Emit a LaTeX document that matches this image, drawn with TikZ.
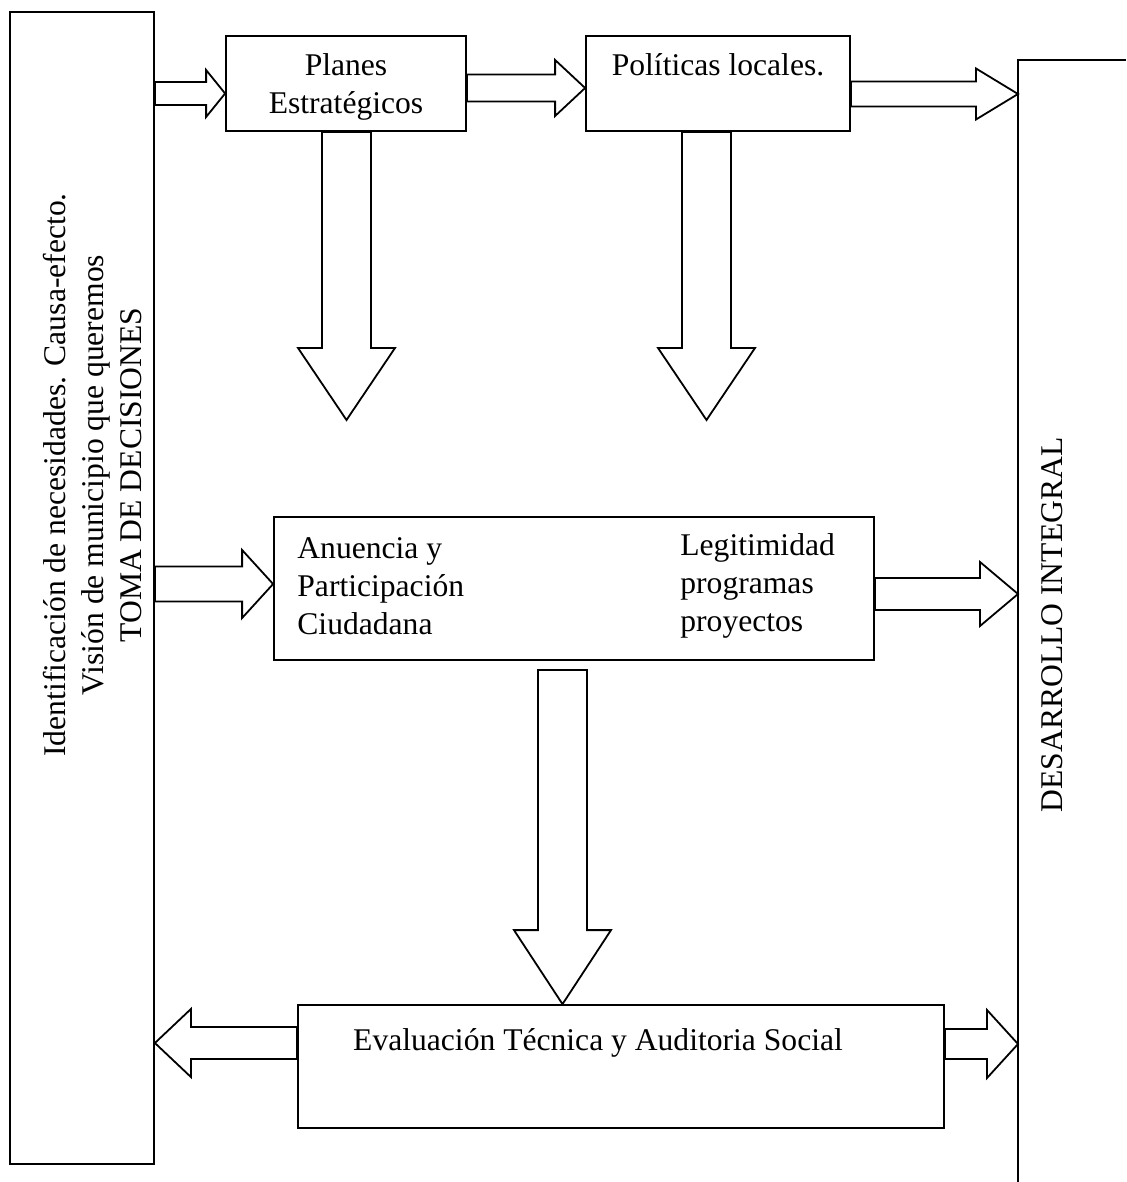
\documentclass[tikz,border=0pt]{standalone}
\usepackage{fontspec}
\setmainfont{Liberation Serif}
\usetikzlibrary{calc}
\tikzset{
  rarr/.style args={#1/#2/#3}{to path={
      -- ($(\tikztostart)+(0,-#1)$) -- ($(\tikztotarget)+(-#3,-#1)$)
      -- ($(\tikztotarget)+(-#3,-#2)$) -- (\tikztotarget)
      -- ($(\tikztotarget)+(-#3,#2)$) -- ($(\tikztotarget)+(-#3,#1)$)
      -- ($(\tikztostart)+(0,#1)$) -- cycle}},
  larr/.style args={#1/#2/#3}{to path={
      -- ($(\tikztostart)+(0,-#1)$) -- ($(\tikztotarget)+(#3,-#1)$)
      -- ($(\tikztotarget)+(#3,-#2)$) -- (\tikztotarget)
      -- ($(\tikztotarget)+(#3,#2)$) -- ($(\tikztotarget)+(#3,#1)$)
      -- ($(\tikztostart)+(0,#1)$) -- cycle}},
  darr/.style args={#1/#2/#3}{to path={
      -- ($(\tikztostart)+(-#1,0)$) -- ($(\tikztotarget)+(-#1,-#3)$)
      -- ($(\tikztotarget)+(-#2,-#3)$) -- (\tikztotarget)
      -- ($(\tikztotarget)+(#2,-#3)$) -- ($(\tikztotarget)+(#1,-#3)$)
      -- ($(\tikztostart)+(#1,0)$) -- cycle}},
}
\begin{document}
\begin{tikzpicture}[x=0.5pt,y=-0.5pt]
        \tikzstyle{box}=[draw,line width=0.9pt,inner sep=0pt]
        \tikzstyle{txt}=[inner sep=0pt,font=\fontsize{15.8}{19}\selectfont]
        \tikzstyle{blk}=[draw,line width=0.9pt,line join=miter]

      \useasboundingbox (0,0) rectangle (1126,1182);

      % left column
      \node[box,minimum width=72pt,minimum height=576pt] (lbox) at (82,588) {};
      \node[txt,rotate=90,align=center] (ltext) at (93,475)
           {Identificación de necesidades. Causa-efecto.\\Visión de municipio que queremos\\TOMA DE DECISIONES};

      % right column (open box)
      \draw[line width=0.9pt] (1126,60) coordinate (rtop) -- (1018,60) coordinate (rb) -- (1018,1182);
      \node[txt,rotate=90] (dtext) at (1052,625) {DESARROLLO INTEGRAL};

      % top row
      \node[box,minimum width=120pt,minimum height=47.5pt] (pl) at (346,83.5) {};
      \node[txt,align=center] (pltext) at (346,87) {Planes\\Estratégicos};
      \node[box,minimum width=132pt,minimum height=47.5pt] (pol) at (718,83.5) {};
      \node[txt] (poltext) at (718,65) {Políticas locales.};

      % middle
      \node[box,minimum width=300pt,minimum height=71.5pt] (anu) at (574,588.5) {};
      \node[txt,align=left,anchor=west] (anul) at (297,586) {Anuencia y\\Participación\\Ciudadana};
      \node[txt,align=left,anchor=west] (anur) at (680,586) {Legitimidad\\programas\\proyectos};

      % bottom
      \node[box,minimum width=323pt,minimum height=61.5pt] (eva) at (621,1066.5) {};
      \node[txt] (evatext) at (598,1043) {Evaluación Técnica y Auditoria Social};

      % block arrows
      \coordinate (c1) at ($(pl.west)+(0,10)$);
      \draw[blk,rarr=11.5/23.5/19] (lbox.east |- c1) to (c1);
      \coordinate (c2) at ($(pol.west)+(0,4.5)$);
      \draw[blk,rarr=13.5/28/30] (pl.east |- c2) to (c2);
      \coordinate (c3) at ($(pol.east)+(0,10.5)$);
      \draw[blk,rarr=12.5/25.5/42] (c3) to (rb |- c3);

      \coordinate (c4) at ($(pl.south)+(0.5,0)$);
      \coordinate (t4) at (346.5,420);
      \draw[blk,darr=24.5/48.5/72] (c4) to (t4);
      \coordinate (c5) at ($(pol.south)+(-11.5,0)$);
      \coordinate (t5) at (706.5,420);
      \draw[blk,darr=24.5/48.5/72] (c5) to (t5);

      \coordinate (c6) at ($(anu.west)+(0,-4.5)$);
      \draw[blk,rarr=17.5/34/31] (lbox.east |- c6) to (c6);
      \coordinate (c7) at ($(anu.east)+(0,5.5)$);
      \draw[blk,rarr=16/32/38] (c7) to (rb |- c7);

      \coordinate (c8) at ($(anu.south)+(-11.5,9)$);
      \draw[blk,darr=24.5/48.5/74] (c8) to (c8 |- eva.north);

      \coordinate (c9) at ($(eva.west)+(0,-23.5)$);
      \draw[blk,larr=16/34/36] (c9) to (lbox.east |- c9);
      \coordinate (c10) at ($(eva.east)+(0,-22.5)$);
      \draw[blk,rarr=15/34/31] (c10) to (rb |- c10);
    \end{tikzpicture}
\end{document}
